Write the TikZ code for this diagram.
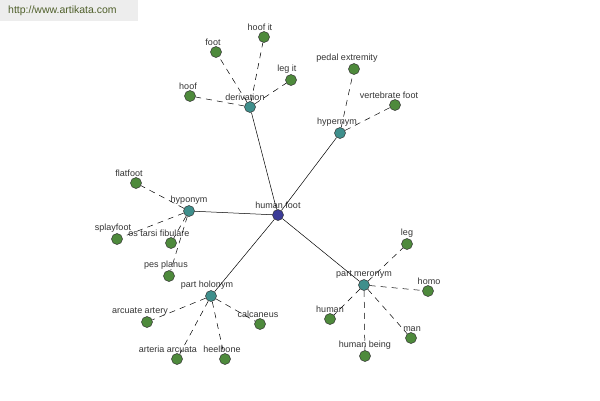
\documentclass[tikz,border=0pt]{standalone}
\usepackage{fontspec}
\setmainfont{Liberation Sans}
\usetikzlibrary{positioning}
\definecolor{leafgreen}{HTML}{4E8A3C}
\definecolor{relteal}{HTML}{3F8F8C}
\definecolor{rootblue}{HTML}{3C3C98}
\definecolor{webolive}{HTML}{4F5F2A}

\begin{document}
\begin{tikzpicture}[x=1pt, y=-1pt,
  dot/.style={circle, draw=black!80, line width=0.5pt, minimum size=11pt, inner sep=0pt},
  leaf/.style={dot, fill=leafgreen},
  rel/.style={dot, fill=relteal},
  root/.style={dot, fill=rootblue},
  lbl/.style={font=\fontsize{9}{10}\selectfont, text=black!80, inner sep=0.5pt},
  every label/.style={lbl},
  label distance=0pt,
  link/.style={draw=black, line width=0.5pt},
  sublink/.style={draw=black, line width=0.5pt, dash pattern=on 6pt off 5pt}]
  \useasboundingbox (0,0) rectangle (600,400);
  % watermark
  \fill[black!7] (0,0) rectangle (138,21);
  \node[anchor=west, font=\fontsize{10.5}{12}\selectfont, text=webolive, inner sep=0pt] (site) at (8,11) {http://www.artikata.com};
  % centre and relations
  \node[root, label=above:human foot] (hf) at (278,215) {};
  \node[rel, label={[xshift=-5pt]above:derivation}] (der) at (250,107) {};
  \node[rel, label={[xshift=-3pt]above:hypernym}] (hyper) at (340,133) {};
  \node[rel, label=above:hyponym] (hypo) at (189,211) {};
  \node[rel, label={[xshift=-4pt]above:part holonym}] (holo) at (211,296) {};
  \node[rel, label=above:part meronym] (mero) at (364,285) {};
  % leaves
  \node[leaf, label={[xshift=-3pt]above:foot}] (foot) at (216,52) {};
  \node[leaf, label={[xshift=-4pt]above:hoof it}] (hoofit) at (264,37) {};
  \node[leaf, label={[xshift=-4pt]above:leg it}] (legit) at (291,80) {};
  \node[leaf, label={[xshift=-2pt]above:hoof}] (hoof) at (190,96) {};
  \node[leaf, label={[xshift=-7pt]above:pedal extremity}] (pedal) at (354,69) {};
  \node[leaf, label={[xshift=-6pt]above:vertebrate foot}] (vert) at (395,105) {};
  \node[leaf, label={[xshift=-7pt]above:flatfoot}] (flat) at (136,183) {};
  \node[leaf, label={[xshift=-4pt]above:splayfoot}] (splay) at (117,239) {};
  \node[leaf, label={[xshift=-12pt]above:os tarsi fibulare}] (os) at (171,243) {};
  \node[leaf, label={[xshift=-3pt]above:pes planus}] (pes) at (169,276) {};
  \node[leaf, label={[xshift=-7pt]above:arcuate artery}] (arcuate) at (147,322) {};
  \node[leaf, label={[xshift=-2pt]above:calcaneus}] (calc) at (260,324) {};
  \node[leaf, label={[xshift=-9pt]above:arteria arcuata}] (arteria) at (177,359) {};
  \node[leaf, label={[xshift=-3pt]above:heelbone}] (heel) at (225,359) {};
  \node[leaf, label=above:leg] (leg) at (407,244) {};
  \node[leaf, label={[xshift=1pt]above:homo}] (homo) at (428,291) {};
  \node[leaf, label=above:human] (human) at (330,319) {};
  \node[leaf, label={[xshift=1pt]above:man}] (man) at (411,338) {};
  \node[leaf, label=above:human being] (being) at (365,356) {};
  % connectors
  \foreach \r in {der, hyper, hypo, holo, mero}
    \draw[link] (hf) -- (\r);
  \foreach \l in {foot, hoofit, legit, hoof}
    \draw[sublink] (der) -- (\l);
  \foreach \l in {pedal, vert}
    \draw[sublink] (hyper) -- (\l);
  \foreach \l in {flat, splay, os, pes}
    \draw[sublink] (hypo) -- (\l);
  \foreach \l in {arcuate, calc, arteria, heel}
    \draw[sublink] (holo) -- (\l);
  \foreach \l in {leg, homo, human, man, being}
    \draw[sublink] (mero) -- (\l);
\end{tikzpicture}
\end{document}
